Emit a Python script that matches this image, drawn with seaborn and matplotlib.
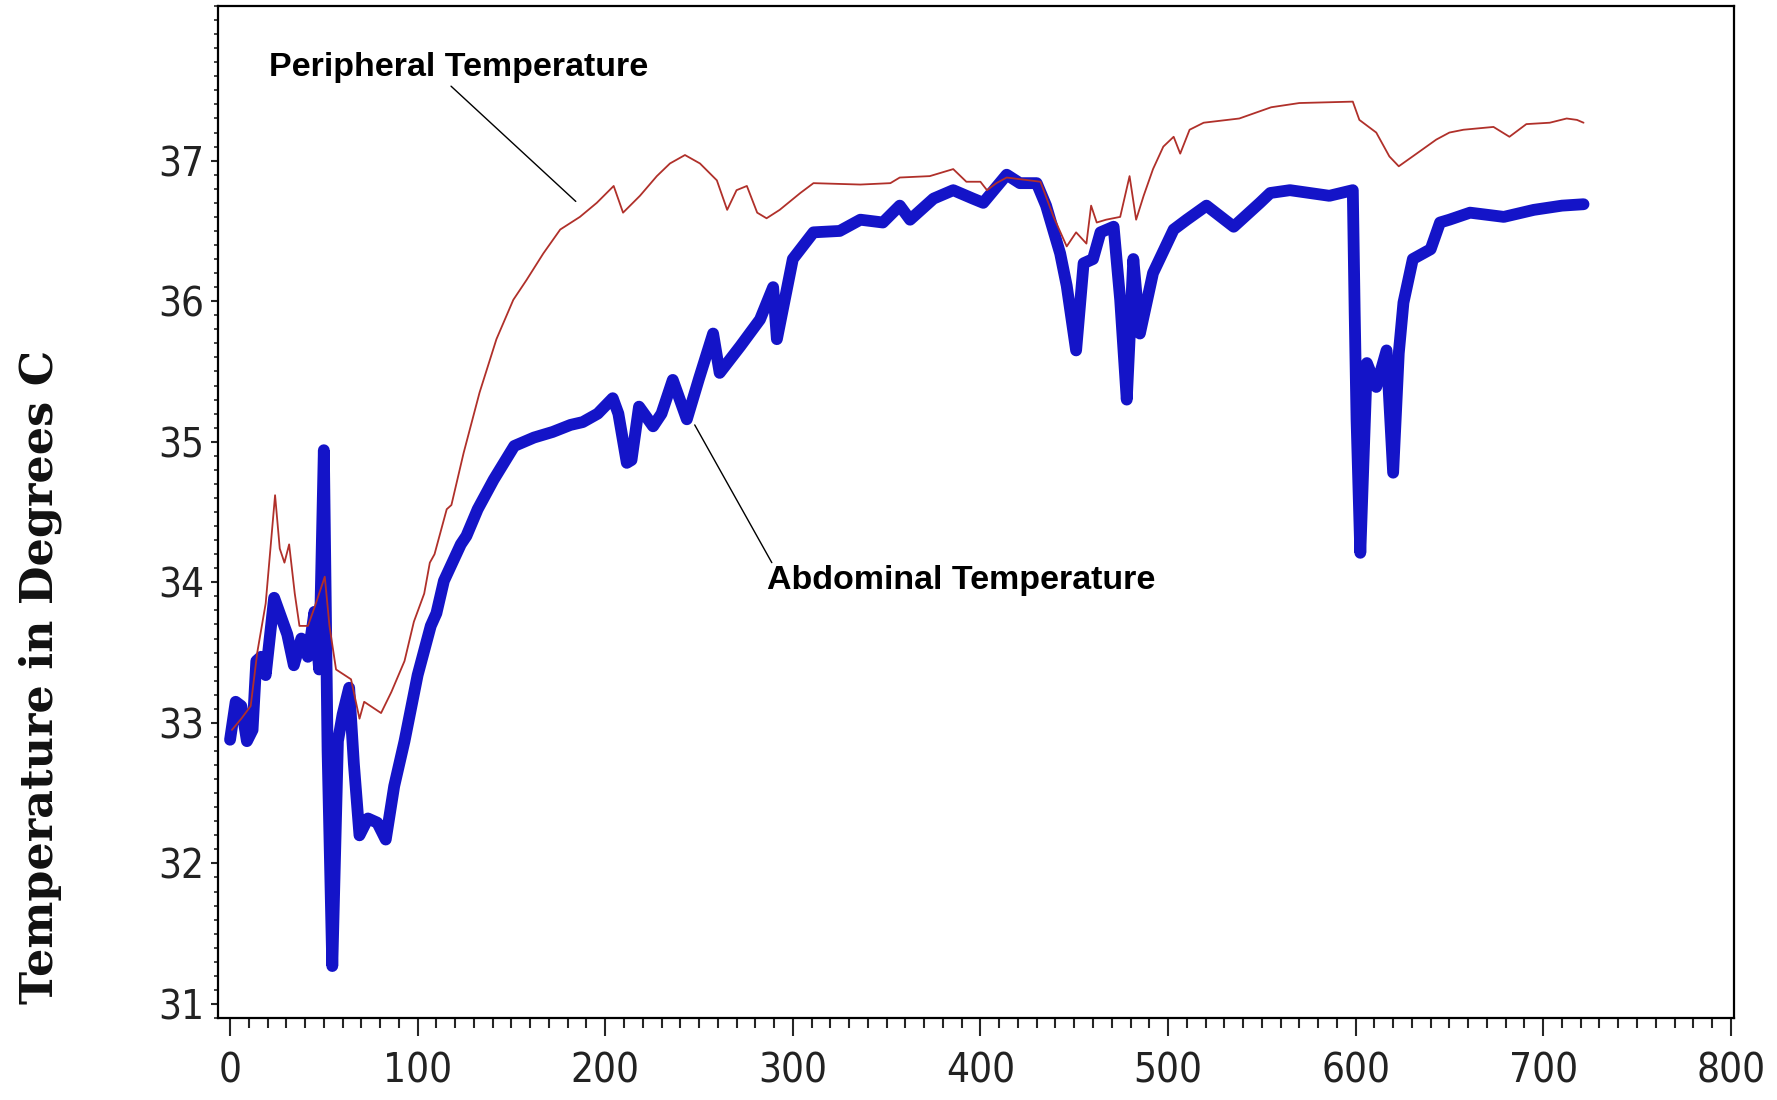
import matplotlib
matplotlib.use("Agg")
import matplotlib.pyplot as plt
from matplotlib import font_manager as fm
from matplotlib.ticker import MultipleLocator
import pandas as pd
import seaborn as sns

# Abdominal temperature (thick blue)
abd_x = [0, 3, 6, 9, 12, 14, 16.5, 19, 23.5, 27, 30.5, 34, 38, 41.5, 45, 47.5, 50, 52,
         54.5, 57.5, 60, 63.5, 66, 69, 73.5, 78.5, 83, 87.5, 93, 100, 107, 110, 114, 123,
         126, 132, 140.5, 151.5, 155, 162, 172, 181.5, 188, 196, 204, 207, 211.5, 214,
         218, 225.5, 230, 236, 243.5, 250, 257.5, 261, 272, 282.5, 289.5, 291.5, 300,
         311, 325, 336, 348, 357, 362.5, 375, 385.5, 396, 401.5, 414, 421, 430, 435,
         442.5, 446, 451, 455, 460, 464, 471, 474.5, 478, 481.5, 485, 492, 503, 510,
         520.5, 535, 549, 554.5, 565, 586, 598.5, 599.5, 600.5, 602.5, 606, 611, 616.5,
         620, 623, 625.5, 630.5, 640, 645, 650, 661, 679, 695, 710, 721.5]
abd_y = [32.88, 33.15, 33.12, 32.87, 32.95, 33.44, 33.47, 33.34, 33.89, 33.76, 33.63,
         33.41, 33.60, 33.47, 33.79, 33.38, 34.94, 32.80, 31.27, 32.87, 33.06, 33.25,
         32.71, 32.20, 32.32, 32.29, 32.17, 32.55, 32.87, 33.34, 33.69, 33.78, 34.01,
         34.27, 34.33, 34.52, 34.73, 34.97, 34.99, 35.03, 35.07, 35.12, 35.14, 35.20,
         35.31, 35.20, 34.85, 34.87, 35.25, 35.11, 35.20, 35.44, 35.16, 35.45, 35.77,
         35.49, 35.68, 35.87, 36.10, 35.73, 36.30, 36.49, 36.50, 36.58, 36.56, 36.68,
         36.58, 36.73, 36.79, 36.73, 36.70, 36.90, 36.84, 36.84, 36.68, 36.34, 36.11,
         35.65, 36.27, 36.30, 36.49, 36.53, 36.01, 35.30, 36.30, 35.77, 36.20, 36.51,
         36.58, 36.68, 36.53, 36.70, 36.77, 36.79, 36.75, 36.79, 35.92, 35.16, 34.21,
         35.56, 35.39, 35.65, 34.78, 35.63, 35.99, 36.30, 36.37, 36.56, 36.58, 36.63,
         36.60, 36.65, 36.68, 36.69]

# Peripheral temperature (thin red)
per_x = [1, 6, 11, 14.5, 19, 24, 26.5, 29, 31.5, 34.5, 37, 41.5, 45, 50.5, 53, 56.5,
         64.5, 69, 71.5, 80.5, 86, 93, 98, 103.5, 106.5, 109, 115.5, 118, 124.5, 133,
         142, 151, 158, 167, 176, 186.5, 195.5, 204.5, 209.5, 218.5, 227.5, 234.5,
         242.5, 250.5, 259.5, 265, 270, 275.5, 281, 286, 293, 304, 311, 336, 352, 357,
         373, 385.5, 392.5, 400, 403.5, 408.5, 414, 432, 439, 446, 451, 456.5, 459, 462,
         467, 474.5, 479.5, 483, 487, 492, 497.5, 503, 506.5, 511.5, 519, 538, 555, 570,
         598.5, 602, 611, 618, 623, 632.5, 643, 650, 657.5, 673.5, 682, 691, 703.5,
         712.5, 718, 721.5]
per_y = [32.95, 33.03, 33.12, 33.50, 33.85, 34.62, 34.24, 34.14, 34.27, 33.92, 33.69,
         33.69, 33.82, 34.04, 33.69, 33.38, 33.31, 33.03, 33.15, 33.07, 33.22, 33.44,
         33.72, 33.92, 34.14, 34.20, 34.52, 34.55, 34.92, 35.35, 35.73, 36.01, 36.15,
         36.34, 36.51, 36.60, 36.70, 36.82, 36.63, 36.75, 36.89, 36.98, 37.04, 36.98,
         36.86, 36.65, 36.79, 36.82, 36.63, 36.59, 36.65, 36.77, 36.84, 36.83, 36.84,
         36.88, 36.89, 36.94, 36.85, 36.85, 36.79, 36.84, 36.88, 36.85, 36.60, 36.39,
         36.49, 36.41, 36.68, 36.56, 36.58, 36.60, 36.89, 36.58, 36.75, 36.94, 37.10,
         37.17, 37.05, 37.22, 37.27, 37.30, 37.38, 37.41, 37.42, 37.29, 37.20, 37.03,
         36.96, 37.05, 37.15, 37.20, 37.22, 37.24, 37.17, 37.26, 37.27, 37.30, 37.29,
         37.27]

x_ticks = [0, 100, 200, 300, 400, 500, 600, 700, 800]
y_ticks = [31, 32, 33, 34, 35, 36, 37]
y_label = "Temperature in Degrees C"
per_label = "Peripheral Temperature"
abd_label = "Abdominal Temperature"

abd = pd.DataFrame({"time": abd_x, "temp": abd_y})
per = pd.DataFrame({"time": per_x, "temp": per_y})

sns.set_style("white")

# pick a narrow face for the tick numbers if one is installed
installed = {(f.name, f.stretch) for f in fm.fontManager.ttflist}
tick_family, tick_stretch, tick_size = ["Liberation Sans", "DejaVu Sans"], "normal", 29
if any(n == "Liberation Sans Narrow" for n, s in installed):
    tick_family, tick_size = ["Liberation Sans Narrow", "DejaVu Sans"], 35
elif ("DejaVu Sans", "condensed") in installed:
    tick_family, tick_stretch, tick_size = ["DejaVu Sans"], "condensed", 29

fig = plt.figure(figsize=(17.77, 11.0), dpi=100)
ax = fig.add_axes([0.1227, 0.0745, 0.8531, 0.92])

sns.lineplot(data=abd, x="time", y="temp", sort=False, estimator=None, ax=ax,
             color="#1414C8", linewidth=8.5)
sns.lineplot(data=per, x="time", y="temp", sort=False, estimator=None, ax=ax,
             color="#B0302A", linewidth=1.3)

ax.set_xlim(-6.4, 801.7)
ax.set_ylim(30.9, 38.1)
ax.set_xticks(x_ticks)
ax.set_yticks(y_ticks)
ax.xaxis.set_minor_locator(MultipleLocator(10))
ax.yaxis.set_minor_locator(MultipleLocator(0.1))
ax.tick_params(axis="x", which="major", direction="out", length=13, width=1.5, pad=11,
               bottom=True, labelsize=tick_size)
ax.tick_params(axis="x", which="minor", direction="out", length=7, width=1.5, bottom=True)
ax.tick_params(axis="y", which="major", direction="out", length=5, width=1.5, pad=5,
               left=True, labelsize=tick_size)
ax.tick_params(axis="y", which="minor", direction="out", length=3, width=1.2, left=True)
for lab in ax.get_xticklabels() + ax.get_yticklabels():
    lab.set_family(tick_family)
    lab.set_stretch(tick_stretch)
    lab.set_color("#222222")
ax.set_xlabel("")
ax.set_ylabel("")
for sp in ax.spines.values():
    sp.set_visible(True)
    sp.set_color("black")
    sp.set_linewidth(1.6)

fig.text(40 / 1777, 0.385, y_label, rotation=90, ha="center", va="center",
         family=["DejaVu Serif"], fontweight="bold", fontsize=32, color="#111111")

ax.text(20.5, 37.66, per_label, ha="left", va="center", fontsize=24.5,
        family=["Liberation Sans", "DejaVu Sans"], fontweight="bold", color="black")
ax.plot([117.8, 184.3], [37.53, 36.71], color="black", linewidth=1.0)
ax.text(286.4, 34.01, abd_label, ha="left", va="center", fontsize=24.5,
        family=["Liberation Sans", "DejaVu Sans"], fontweight="bold", color="black")
ax.plot([247.7, 288.8], [35.12, 34.14], color="black", linewidth=1.0)

fig.savefig("out.png", dpi=100)
